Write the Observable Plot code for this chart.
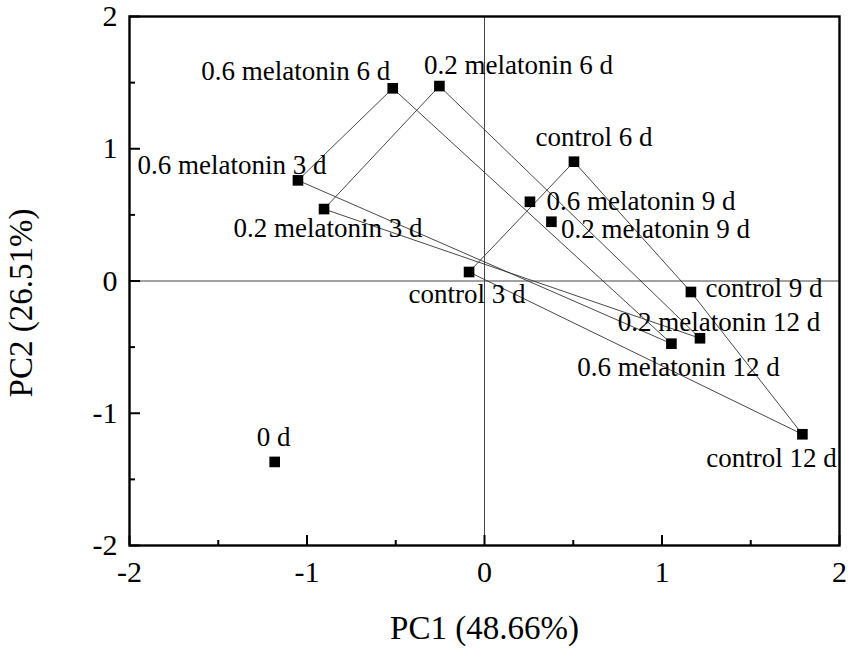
<!DOCTYPE html>
<html>
<head>
<meta charset="utf-8">
<script src="https://cdn.jsdelivr.net/npm/d3@7"></script>
<script src="https://cdn.jsdelivr.net/npm/@observablehq/plot@0.6"></script>
<style>
  html, body { margin: 0; padding: 0; background: #fff; }
  #chart svg { display: block; }
</style>
</head>
<body>
<div id="chart"></div>
<script>
// ---- data ----
const names = [
  "0.6 melatonin 3 d", "0.6 melatonin 6 d", "0.6 melatonin 9 d", "0.6 melatonin 12 d",
  "0.2 melatonin 3 d", "0.2 melatonin 6 d", "0.2 melatonin 9 d", "0.2 melatonin 12 d",
  "control 3 d", "control 6 d", "control 9 d", "control 12 d",
  "0 d"
];
const pc1 = [-1.051, -0.517, 0.256, 1.053,  -0.904, -0.254, 0.377, 1.214,  -0.087, 0.504, 1.163, 1.791,  -1.182];
const pc2 = [ 0.761,  1.457, 0.599, -0.474,  0.544,  1.474, 0.448, -0.433,   0.068, 0.902, -0.083, -1.159, -1.368];

// closed outlines connecting the samples of each treatment
const controlPath = ["control 3 d", "control 6 d", "control 9 d", "control 12 d", "control 3 d"];
const mel02Path   = ["0.2 melatonin 3 d", "0.2 melatonin 6 d", "0.2 melatonin 12 d", "0.2 melatonin 3 d"];
const mel06Path   = ["0.6 melatonin 3 d", "0.6 melatonin 6 d", "0.6 melatonin 12 d", "0.6 melatonin 3 d"];

const majorTicks = [-2, -1, 0, 1, 2];
const minorTicks = [-1.5, -0.5, 0.5, 1.5];
const xTitle = "PC1 (48.66%)";
const yTitle = "PC2 (26.51%)";

// ---- label placement (pixels, relative to each point) ----
const labelOffset = {
  "0.6 melatonin 3 d": [-66, -15],
  "0.6 melatonin 6 d": [-97, -17],
  "0.6 melatonin 9 d": [111, 0],
  "0.6 melatonin 12 d": [7, 24],
  "0.2 melatonin 3 d": [4, 19],
  "0.2 melatonin 6 d": [79, -21],
  "0.2 melatonin 9 d": [104, 8],
  "0.2 melatonin 12 d": [19, -16],
  "control 3 d": [-2, 22],
  "control 6 d": [20, -24],
  "control 9 d": [73, -4],
  "control 12 d": [-31, 24],
  "0 d": [-1, -25]
};

// ---- build tables ----
const points = names.map((n, i) => ({name: n, pc1: pc1[i], pc2: pc2[i]}));
const byName = new Map(points.map(p => [p.name, p]));
const lineData = [];
[["control", controlPath], ["0.2", mel02Path], ["0.6", mel06Path]].forEach(([g, seq]) =>
  seq.forEach(n => lineData.push({group: g, ...byName.get(n)})));

const W = 851, H = 663, ML = 129, MR = 12, MT = 16, MB = 118;
const innerW = W - ML - MR, innerH = H - MT - MB;
const FONT = "'Liberation Serif', 'Times New Roman', serif";

const chart = Plot.plot({
  width: W, height: H,
  marginLeft: ML, marginRight: MR, marginTop: MT, marginBottom: MB,
  style: {fontFamily: FONT, background: "#fff", color: "#000"},
  x: {domain: [-2, 2]},
  y: {domain: [-2, 2]},
  marks: [
    Plot.ruleX([0], {stroke: "#444", strokeWidth: 1}),
    Plot.ruleY([0], {stroke: "#444", strokeWidth: 1}),
    Plot.line(lineData, {x: "pc1", y: "pc2", z: "group", stroke: "#333", strokeWidth: 0.9, curve: "linear"}),
    Plot.dot(points, {x: "pc1", y: "pc2", symbol: "square", r: 6, fill: "#000", stroke: "none"}),
    ...points.map(p => Plot.text([p], {
      x: "pc1", y: "pc2", text: "name",
      dx: labelOffset[p.name][0], dy: labelOffset[p.name][1],
      fontSize: 27, fill: "#000", textAnchor: "middle", lineAnchor: "middle"
    })),
    // inward ticks
    Plot.tickX(majorTicks, {x: d => d, insetTop: innerH - 10, strokeWidth: 2, stroke: "#000"}),
    Plot.tickX(minorTicks, {x: d => d, insetTop: innerH - 5, strokeWidth: 2, stroke: "#000"}),
    Plot.tickY(majorTicks, {y: d => d, insetRight: innerW - 11, strokeWidth: 2, stroke: "#000"}),
    Plot.tickY(minorTicks, {y: d => d, insetRight: innerW - 6, strokeWidth: 2, stroke: "#000"}),
    Plot.frame({stroke: "#000", strokeWidth: 2.4}),
    Plot.axisX({ticks: majorTicks, tickSize: 0, tickPadding: 15, fontSize: 30, tickFormat: d => String(d), label: null}),
    Plot.axisY({ticks: majorTicks, tickSize: 0, tickPadding: 12, fontSize: 30, tickFormat: d => String(d), label: null}),
    Plot.text([xTitle], {text: d => d, frameAnchor: "bottom", dy: 83, lineAnchor: "middle", fontSize: 33, fill: "#000"}),
    Plot.text([yTitle], {text: d => d, frameAnchor: "left", rotate: -90, dx: -108, dy: 22, lineAnchor: "middle", textAnchor: "middle", fontSize: 33, fill: "#000"})
  ]
});
document.getElementById("chart").appendChild(chart);
</script>
</body>
</html>
